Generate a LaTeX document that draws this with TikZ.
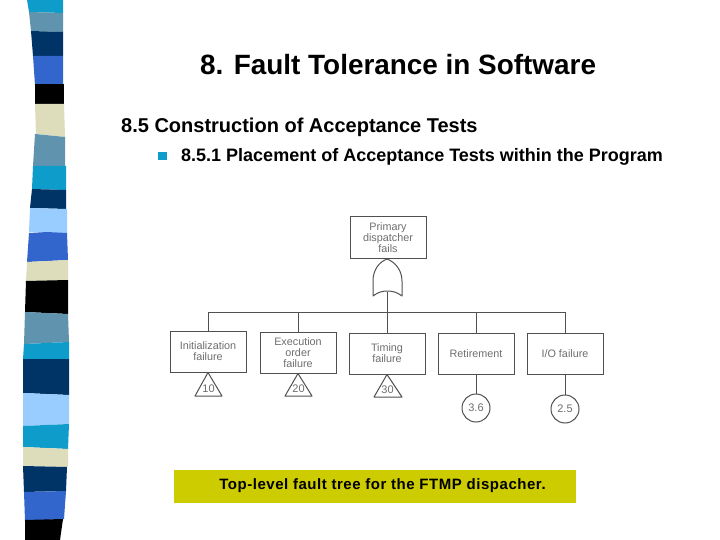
\documentclass[tikz,border=0pt]{standalone}
\usepackage{fontspec}
\setmainfont{Liberation Sans}
\definecolor{sCyan}{HTML}{0E9CCB}
\definecolor{sSteel}{HTML}{5F93AE}
\definecolor{sNavy}{HTML}{003366}
\definecolor{sBlue}{HTML}{3366CC}
\definecolor{sBeige}{HTML}{DDDDBB}
\definecolor{sLight}{HTML}{99CCFF}
\definecolor{capbg}{HTML}{CCCC00}
\definecolor{ink}{HTML}{505050}
\definecolor{scanink}{HTML}{6E6E6E}
\tikzset{
  ftbox/.style={draw=ink,line width=1pt,fill=white,minimum width=76pt,minimum height=41pt,inner sep=0pt,align=center,text=scanink,font=\fontsize{10.8}{11.2}\selectfont},
  ftcirc/.style={circle,draw=ink,line width=1pt,minimum size=28pt,inner sep=0pt,text=scanink,font=\fontsize{11}{12}\selectfont},
  fttri/.style={draw=ink,line width=1pt,fill=white,line join=round},
  ftline/.style={draw=ink,line width=1pt},
  ftlabel/.style={inner sep=0pt,text=scanink,font=\fontsize{11}{12}\selectfont},
  slidetext/.style={inner sep=0pt,anchor=west,font=\bfseries,text=black}
}
\begin{document}
\begin{tikzpicture}[x=1pt,y=-1pt]
\useasboundingbox (0,0) rectangle (720,540);
\fill[white] (0,0) rectangle (720,540);
% stripe band
\fill[sCyan]  (27,0) -- (63,0) -- (63,13) -- (29,12) -- cycle;
\fill[sSteel] (29,12) -- (63,13) -- (63,32) -- (31,31) -- cycle;
\fill[sNavy]  (31,31) -- (63,32) -- (63,56) -- (33,56) -- cycle;
\fill[sBlue]  (33,56) -- (63,56) -- (63,84) -- (35,85) -- cycle;
\fill[black]  (35,84) -- (64,84) -- (64,104) -- (35,104) -- cycle;
\fill[sBeige] (35,104) -- (64,104) -- (65,137) -- (36,134) -- cycle;
\fill[sSteel] (35,134) -- (65,137) -- (65,166) -- (33,166) -- cycle;
\fill[sCyan]  (33,166) -- (66,166) -- (66,190) -- (32,189) -- cycle;
\fill[sNavy]  (32,189) -- (66,190) -- (66,209) -- (30,208) -- cycle;
\fill[sLight] (30,208) -- (67,209) -- (67,233) -- (29,232) -- cycle;
\fill[sBlue]  (29,233) -- (47,232) -- (67,233) -- (68,260) -- (27,262) -- cycle;
\fill[sBeige] (27,262) -- (68,260) -- (68,281) -- (26,281) -- cycle;
\fill[black]  (26,281) -- (68,280) -- (68,314) -- (25,312) -- cycle;
\fill[sSteel] (25,312) -- (68,314) -- (69,342) -- (24,344) -- cycle;
\fill[sCyan]  (24,344) -- (69,342) -- (69,359) -- (23,359) -- cycle;
\fill[sNavy]  (23,359) -- (69,359) -- (69,395) -- (23,393) -- cycle;
\fill[sLight] (23,393) -- (69,395) -- (69,424) -- (23,426) -- cycle;
\fill[sCyan]  (23,426) -- (69,424) -- (68,449) -- (23,447) -- cycle;
\fill[sBeige] (23,447) -- (68,449) -- (68,467) -- (23,466) -- cycle;
\fill[sNavy]  (23,466) -- (67,467) -- (66,491) -- (24,492) -- cycle;
\fill[sBlue]  (24,492) -- (66,491) -- (64,519) -- (25,521) -- cycle;
\fill[black]  (25,520) -- (63,519) -- (60,540) -- (25,540) -- cycle;
% slide text
\node[slidetext] (title) at (200,64.5) {\fontsize{27.9}{32}\selectfont 8. Fault Tolerance in Software};
\node[slidetext] (head) at (121,127) {\fontsize{20}{23}\selectfont 8.5 Construction of Acceptance Tests};
\node[fill=sCyan,minimum width=9pt,minimum height=8pt,inner sep=0pt] (bul) at (162.5,156) {};
\node[slidetext] (sub) at (181,156.5) {\fontsize{18}{21}\selectfont 8.5.1 Placement of Acceptance Tests within the Program};
% fault tree
\coordinate (busL) at (208,312);
\coordinate (busR) at (565,312);
\node[ftbox] (prim) at (388,237.5) {Primary\\dispatcher\\fails};
\node[ftbox] (init) at (208,351.5) {Initialization\\failure};
\node[ftbox] (exec) at (298,352.5) {Execution\\order\\failure};
\node[ftbox] (timg) at (387,353.5) {Timing\\failure};
\node[ftbox] (reti) at (476,353.5) {Retirement};
\node[ftbox] (iofl) at (565,354) {I/O failure};
\node[ftcirc] (c36) at (476,408) {3.6};
\node[ftcirc] (c25) at (565,409) {2.5};
\coordinate (gateO) at (387,292);
\coordinate (bus1) at (208,312);
\coordinate (bus2) at (298,312);
\coordinate (bus4) at (476,312);
\coordinate (bus5) at (565,312);
\draw[ftline] (busL) -- (busR);
\draw[ftline] (gateO) -- (timg.north);
\draw[ftline] (bus1) -- (init.north);
\draw[ftline] (bus2) -- (exec.north);
\draw[ftline] (bus4) -- (reti.north);
\draw[ftline] (bus5) -- (iofl.north);
\draw[ftline] (reti.south) -- (c36.north);
\draw[ftline] (iofl.south) -- (c25.north);
% OR gate
\draw[ftline,fill=white,line join=round] (387,259) .. controls (379,262) and (373,270) .. (373,281)
  -- (373,296)
  .. controls (378,292) and (383,291) .. (387,291)
  .. controls (392,291) and (397,292) .. (402,296)
  -- (402,281)
  .. controls (402,270) and (395,262) .. (387,259) -- cycle;
% transfer triangles
\draw[fttri] (init.south) -- (195,396) -- (222,396) -- cycle;
\draw[fttri] (exec.south) -- (285,396) -- (312,396) -- cycle;
\draw[fttri] (timg.south) -- (374,397) -- (402,397) -- cycle;
\node[ftlabel] (t10) at (208.5,389) {10};
\node[ftlabel] (t20) at (298.5,389) {20};
\node[ftlabel] (t30) at (387.5,390) {30};
% caption
\node[fill=capbg,minimum width=402pt,minimum height=33pt,inner sep=0pt] (capb) at (375,486.5) {};
\node[inner sep=0pt,font=\bfseries\fontsize{15}{18}\selectfont\addfontfeature{LetterSpace=3.6},text=black] (capt) at (382.5,486) {Top-level fault tree for the FTMP dispacher.};
\end{tikzpicture}
\end{document}
